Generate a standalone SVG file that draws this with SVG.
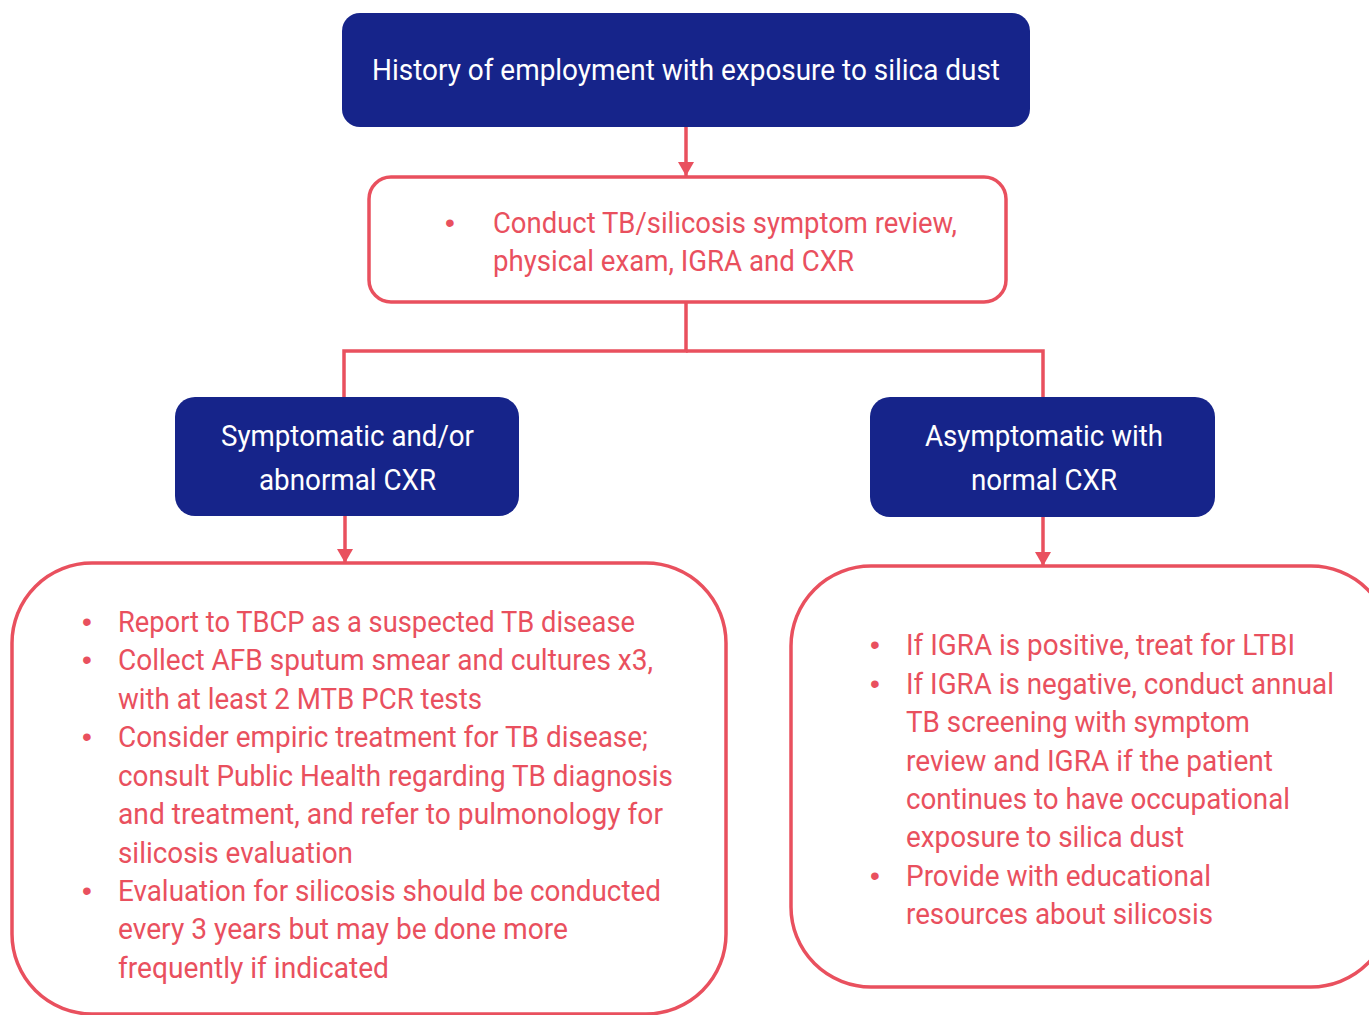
<svg xmlns="http://www.w3.org/2000/svg" width="1369" height="1015" viewBox="0 0 1369 1015">
<style>
.navy{fill:#16248a;}
.redbox{fill:#ffffff;stroke:#e9505e;stroke-width:3.5;}
.wt{fill:#ffffff;font-family:"Roboto","Liberation Sans",sans-serif;font-size:30px;}
.rt{fill:#e9505e;font-family:"Roboto","Liberation Sans",sans-serif;font-size:30px;}
.bul{fill:#e9505e;font-family:"Liberation Sans",sans-serif;font-size:28px;text-anchor:middle;}
.conn{fill:none;stroke:#e9505e;stroke-width:3.5;}
</style>
<defs>
<marker id="arr" markerUnits="userSpaceOnUse" viewBox="0 0 14 16" refX="14" refY="8" markerWidth="14" markerHeight="16" orient="auto">
<path d="M0,0 L14,8 L0,16 z" fill="#e9505e"/>
</marker>
</defs>
<rect width="1369" height="1015" fill="#ffffff"/>
<g id="connectors">
<path class="conn" d="M686,127 V176" marker-end="url(#arr)"/>
<path class="conn" d="M686,302 V351 H344 V397"/>
<path class="conn" d="M686,351 H1043 V397"/>
<path class="conn" d="M345,516 V563" marker-end="url(#arr)"/>
<path class="conn" d="M1043,517 V566" marker-end="url(#arr)"/>
</g>
<g id="node-history">
<rect class="navy" x="342" y="13" width="688" height="114" rx="18"/>
<text class="wt" x="372" y="80" textLength="628" lengthAdjust="spacingAndGlyphs">History of employment with exposure to silica dust</text>
</g>
<g id="node-conduct">
<rect class="redbox" x="369" y="177" width="637" height="125" rx="22"/>
<text class="bul" x="450" y="232">•</text>
<text class="rt" x="493" y="233" textLength="464" lengthAdjust="spacingAndGlyphs">Conduct TB/silicosis symptom review,</text>
<text class="rt" x="493" y="271" textLength="361" lengthAdjust="spacingAndGlyphs">physical exam, IGRA and CXR</text>
</g>
<g id="node-symptomatic">
<rect class="navy" x="175" y="397" width="344" height="119" rx="20"/>
<text class="wt" x="221" y="446" textLength="253" lengthAdjust="spacingAndGlyphs">Symptomatic and/or</text>
<text class="wt" x="259" y="490" textLength="177" lengthAdjust="spacingAndGlyphs">abnormal CXR</text>
</g>
<g id="node-asymptomatic">
<rect class="navy" x="870" y="397" width="345" height="120" rx="20"/>
<text class="wt" x="925" y="446" textLength="238" lengthAdjust="spacingAndGlyphs">Asymptomatic with</text>
<text class="wt" x="971" y="490" textLength="146" lengthAdjust="spacingAndGlyphs">normal CXR</text>
</g>
<g id="node-left-actions">
<rect class="redbox" x="12" y="563" width="714" height="451" rx="80"/>
<text class="bul" x="87" y="631">•</text>
<text class="bul" x="87" y="669">•</text>
<text class="bul" x="87" y="746">•</text>
<text class="bul" x="87" y="900">•</text>
<text class="rt" x="118" y="632" textLength="517" lengthAdjust="spacingAndGlyphs">Report to TBCP as a suspected TB disease</text>
<text class="rt" x="118" y="670" textLength="535" lengthAdjust="spacingAndGlyphs">Collect AFB sputum smear and cultures x3,</text>
<text class="rt" x="118" y="709" textLength="364" lengthAdjust="spacingAndGlyphs">with at least 2 MTB PCR tests</text>
<text class="rt" x="118" y="747" textLength="530" lengthAdjust="spacingAndGlyphs">Consider empiric treatment for TB disease;</text>
<text class="rt" x="118" y="786" textLength="555" lengthAdjust="spacingAndGlyphs">consult Public Health regarding TB diagnosis</text>
<text class="rt" x="118" y="824" textLength="545" lengthAdjust="spacingAndGlyphs">and treatment, and refer to pulmonology for</text>
<text class="rt" x="118" y="863" textLength="235" lengthAdjust="spacingAndGlyphs">silicosis evaluation</text>
<text class="rt" x="118" y="901" textLength="543" lengthAdjust="spacingAndGlyphs">Evaluation for silicosis should be conducted</text>
<text class="rt" x="118" y="939" textLength="450" lengthAdjust="spacingAndGlyphs">every 3 years but may be done more</text>
<text class="rt" x="118" y="978" textLength="271" lengthAdjust="spacingAndGlyphs">frequently if indicated</text>
</g>
<g id="node-right-actions">
<rect class="redbox" x="791" y="566" width="600" height="421" rx="80"/>
<text class="bul" x="875" y="654">•</text>
<text class="bul" x="875" y="693">•</text>
<text class="bul" x="875" y="885">•</text>
<text class="rt" x="906" y="655" textLength="389" lengthAdjust="spacingAndGlyphs">If IGRA is positive, treat for LTBI</text>
<text class="rt" x="906" y="694" textLength="428" lengthAdjust="spacingAndGlyphs">If IGRA is negative, conduct annual</text>
<text class="rt" x="906" y="732" textLength="344" lengthAdjust="spacingAndGlyphs">TB screening with symptom</text>
<text class="rt" x="906" y="771" textLength="367" lengthAdjust="spacingAndGlyphs">review and IGRA if the patient</text>
<text class="rt" x="906" y="809" textLength="384" lengthAdjust="spacingAndGlyphs">continues to have occupational</text>
<text class="rt" x="906" y="847" textLength="278" lengthAdjust="spacingAndGlyphs">exposure to silica dust</text>
<text class="rt" x="906" y="886" textLength="305" lengthAdjust="spacingAndGlyphs">Provide with educational</text>
<text class="rt" x="906" y="924" textLength="307" lengthAdjust="spacingAndGlyphs">resources about silicosis</text>
</g>
</svg>
